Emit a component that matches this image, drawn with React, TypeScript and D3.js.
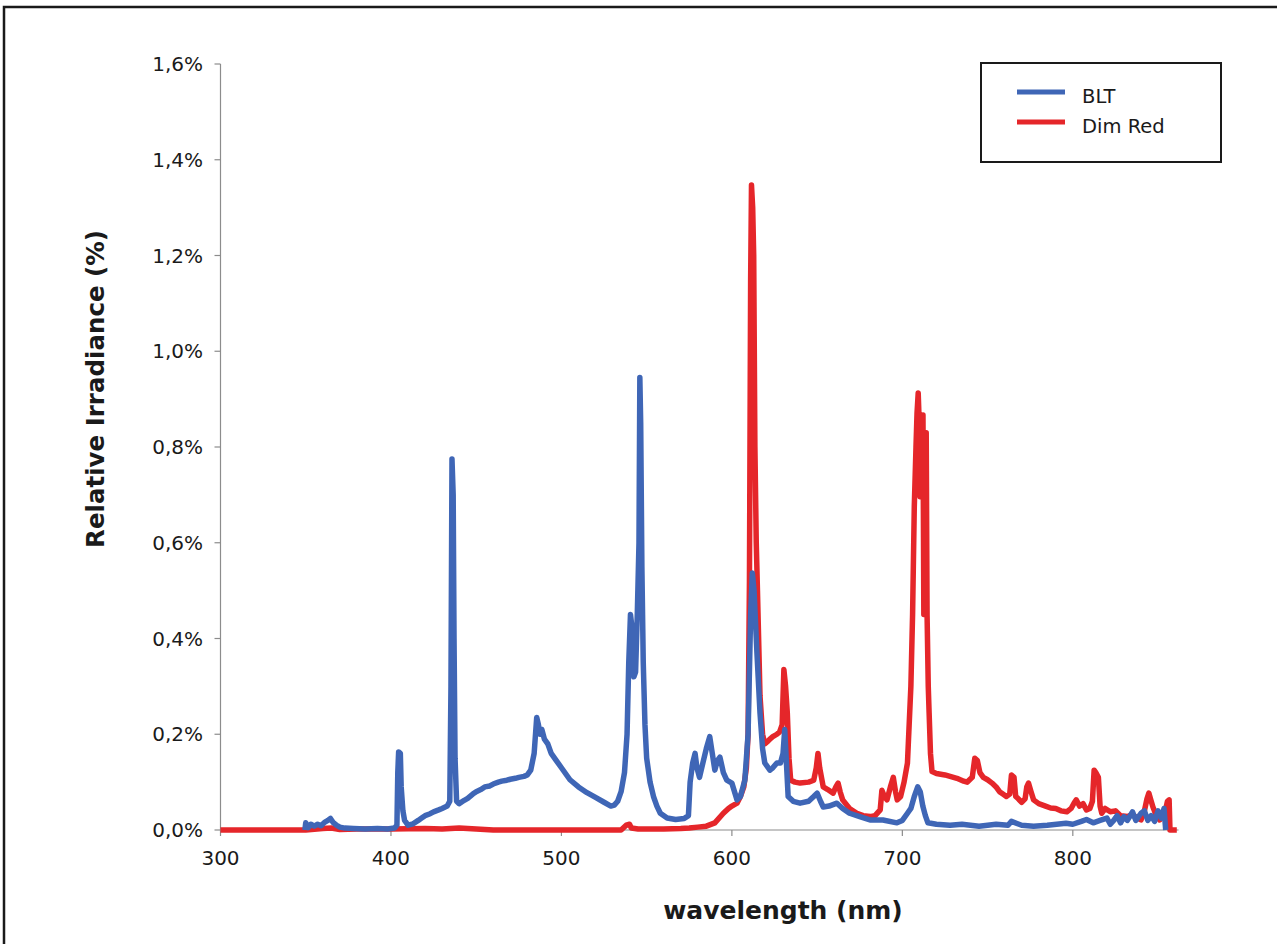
import React from "react";
import * as d3 from "d3";

// wavelength (nm), relative irradiance (%)
const bltSeries: [number, number][] = [
  [349.5, 0], [350, 0.015], [351.5, 0.005], [353, 0.012], [355, 0.008], [357, 0.012], [359, 0.009],
  [361, 0.016], [363, 0.02], [364.5, 0.024], [366, 0.016], [368, 0.01], [370, 0.006], [373, 0.004],
  [378, 0.003], [385, 0.002], [392, 0.003], [398, 0.002], [402, 0.004], [403.5, 0.01],
  [404, 0.12], [404.5, 0.163], [405.5, 0.16], [406, 0.09], [407, 0.04], [408, 0.02], [410, 0.01],
  [413, 0.013], [416, 0.02], [418, 0.025], [420, 0.03], [423, 0.034], [425, 0.038], [428, 0.042],
  [430, 0.045], [433, 0.05], [434.5, 0.06], [435.2, 0.3], [435.8, 0.775], [436.5, 0.7], [437, 0.4],
  [437.6, 0.15], [438.5, 0.06], [440, 0.055], [443, 0.062], [445, 0.066], [448, 0.075], [450, 0.08],
  [453, 0.085], [455, 0.09], [458, 0.092], [460, 0.096], [463, 0.1], [465, 0.102], [468, 0.104],
  [470, 0.106], [473, 0.108], [475, 0.11], [478, 0.112], [480, 0.115], [482, 0.125], [484, 0.16],
  [485.5, 0.235], [486.5, 0.22], [487.5, 0.2], [488.5, 0.21], [490, 0.19], [492, 0.18], [494, 0.16],
  [497, 0.145], [500, 0.13], [505, 0.105], [510, 0.09], [515, 0.078], [520, 0.068], [525, 0.058],
  [529, 0.05], [531, 0.052], [533, 0.06], [535, 0.08], [537, 0.12], [538.5, 0.2], [539.5, 0.35],
  [540.5, 0.45], [541.5, 0.42], [542.5, 0.32], [543.5, 0.33], [544.5, 0.45], [545.5, 0.6],
  [546, 0.945], [546.5, 0.85], [547.2, 0.55], [548, 0.35], [549, 0.22], [550, 0.15], [552, 0.1],
  [554, 0.07], [556, 0.05], [558, 0.035], [562, 0.025], [567, 0.022], [572, 0.024], [574.5, 0.03],
  [575.5, 0.1], [577, 0.14], [578.4, 0.16], [579.5, 0.13], [581, 0.11], [583, 0.14], [585, 0.17],
  [587, 0.195], [588.5, 0.16], [590, 0.125], [591.5, 0.145], [593, 0.152], [595, 0.12], [597, 0.104],
  [600, 0.098], [603, 0.063], [605, 0.07], [607.6, 0.104], [609.5, 0.2], [611, 0.45], [612, 0.537],
  [613, 0.5], [614.7, 0.37], [616.5, 0.244], [618, 0.17], [619.3, 0.14], [622.3, 0.125], [624, 0.13],
  [626.4, 0.14], [628.5, 0.14], [630, 0.16], [631, 0.21], [632, 0.14], [633, 0.07], [636, 0.06],
  [640, 0.056], [645, 0.06], [648, 0.07], [650, 0.077], [652, 0.06], [653.6, 0.048], [657, 0.05],
  [661.6, 0.056], [665, 0.045], [669, 0.035], [675, 0.028], [681, 0.021], [688.6, 0.021],
  [696.8, 0.015], [700, 0.02], [703, 0.035], [705, 0.045], [707, 0.07], [709, 0.09], [710.5, 0.08],
  [712, 0.05], [713.5, 0.03], [715, 0.015], [720, 0.012], [728, 0.01], [735, 0.012], [745, 0.008],
  [755, 0.012], [762, 0.01], [764, 0.018], [770, 0.01], [777, 0.008], [785, 0.01], [796, 0.014],
  [800, 0.012], [805, 0.018], [808, 0.022], [812, 0.015], [816, 0.02], [820, 0.025], [822, 0.012],
  [824, 0.02], [826, 0.03], [828, 0.015], [830, 0.028], [832, 0.02], [835, 0.038], [837, 0.02],
  [840, 0.035], [842, 0.04], [844, 0.02], [846, 0.03], [848, 0.018], [850, 0.04], [852, 0.025],
  [853.5, 0.045], [854.5, 0.0],
];

const dimRedSeries: [number, number][] = [
  [300, 0], [350, 0], [360, 0.003], [365, 0.004], [370, 0.001], [380, 0.002], [400, 0.002],
  [420, 0.003], [430, 0.002], [440, 0.004], [450, 0.002], [460, 0], [535, 0], [538, 0.01],
  [540, 0.012], [541, 0.004], [545, 0.002], [560, 0.002], [570, 0.003], [575, 0.004], [580, 0.006],
  [585, 0.008], [590, 0.015], [595, 0.035], [598, 0.045], [600, 0.05], [603, 0.056], [605, 0.07],
  [607, 0.09], [608.5, 0.13], [609.5, 0.2], [610.3, 0.52], [611, 1.15], [611.5, 1.347],
  [612.2, 1.3], [612.8, 1.2], [613.5, 0.8], [614.3, 0.6], [615, 0.5], [616.5, 0.28], [618, 0.2],
  [619.3, 0.18], [621, 0.185], [622.3, 0.19], [624, 0.195], [626.4, 0.2], [628, 0.205],
  [629.5, 0.22], [630.5, 0.335], [631.5, 0.3], [632.5, 0.245], [633.5, 0.15], [634.5, 0.104],
  [637, 0.1], [640, 0.098], [645, 0.1], [648, 0.104], [649.5, 0.13], [650.5, 0.16], [651.5, 0.13],
  [653.6, 0.09], [656, 0.085], [659.4, 0.077], [661, 0.09], [662.3, 0.098], [663.5, 0.08],
  [665, 0.063], [669, 0.045], [673.3, 0.035], [677, 0.03], [681, 0.028], [684, 0.03], [687, 0.042],
  [688, 0.083], [689.5, 0.07], [691, 0.063], [693, 0.09], [694.7, 0.11], [696, 0.08], [697, 0.063],
  [699, 0.07], [701, 0.1], [703, 0.14], [705, 0.3], [706, 0.45], [707, 0.675], [708, 0.8],
  [708.6, 0.87], [709.3, 0.913], [709.9, 0.85], [710.4, 0.696], [711.2, 0.75], [712.1, 0.867],
  [712.6, 0.45], [713.2, 0.6], [714, 0.83], [714.5, 0.45], [715.2, 0.3], [715.7, 0.245],
  [716.5, 0.16], [717.4, 0.122], [720, 0.118], [725, 0.115], [728, 0.112], [732, 0.108],
  [736, 0.102], [738, 0.1], [741, 0.11], [742.5, 0.15], [744, 0.145], [745.5, 0.12], [747.5, 0.11],
  [750, 0.105], [752.6, 0.098], [755, 0.09], [757, 0.08], [759, 0.075], [761, 0.07], [763, 0.075],
  [764, 0.115], [765.5, 0.11], [766.5, 0.07], [767.5, 0.067], [770, 0.058], [772, 0.065],
  [773, 0.09], [774, 0.098], [775.5, 0.08], [777, 0.063], [780, 0.055], [784, 0.05], [787, 0.046],
  [790, 0.045], [793, 0.04], [796.5, 0.038], [799, 0.045], [801, 0.058], [802, 0.063], [804, 0.05],
  [806, 0.055], [808, 0.042], [810, 0.045], [811.5, 0.06], [812.5, 0.125], [813.5, 0.12],
  [815, 0.11], [816, 0.05], [817, 0.035], [819, 0.045], [822, 0.038], [825, 0.04], [828, 0.03],
  [832, 0.028], [835, 0.032], [838, 0.025], [840, 0.021], [842, 0.04], [843.5, 0.065],
  [844.6, 0.077], [846, 0.06], [847, 0.048], [849, 0.03], [851, 0.021], [852.5, 0.03], [854, 0.035],
  [855.5, 0.06], [856.5, 0.063], [857, 0.0], [861, 0],
];

const xTicks = [300, 400, 500, 600, 700, 800];
const yTicks = [0, 0.2, 0.4, 0.6, 0.8, 1.0, 1.2, 1.4, 1.6];
const seriesNames = ["BLT", "Dim Red"];
const seriesColors = ["#3F66B6", "#E5262A"];

const W = 1277;
const H = 944;
const FONT = "'DejaVu Sans', Verdana, sans-serif";

export default function App() {
  const x = d3.scaleLinear().domain([300, 862]).range([220.5, 1178.5]);
  const y = d3.scaleLinear().domain([0, 1.6]).range([830, 64]);
  const line = d3
    .line<[number, number]>()
    .x((d) => x(d[0]))
    .y((d) => y(d[1]));

  const fmt = (v: number) => v.toFixed(1).replace(".", ",") + "%";

  return (
    <svg
      width={W}
      height={H}
      style={{ position: "absolute", left: 0, top: 0, background: "#fff" }}
    >
      <rect x={0} y={0} width={W} height={H} fill="#fff" />
      <rect x={4} y={7} width={W + 20} height={H + 20} fill="none" stroke="#1a1a1a" strokeWidth={2.5} />

      {/* y axis */}
      <line x1={x(300)} x2={x(300)} y1={y(1.6)} y2={y(0)} stroke="#8c8c8c" strokeWidth={1.2} />
      {yTicks.map((t) => (
        <g key={"y" + t}>
          <line x1={x(300) - 6} x2={x(300)} y1={y(t)} y2={y(t)} stroke="#8c8c8c" strokeWidth={1.2} />
          <text
            x={203}
            y={y(t)}
            dy="0.36em"
            textAnchor="end"
            fontFamily={FONT}
            fontSize={20}
            fill="#1a1a1a"
          >
            {fmt(t)}
          </text>
        </g>
      ))}

      {/* x axis */}
      <line x1={x(300)} x2={x(862)} y1={y(0)} y2={y(0)} stroke="#8c8c8c" strokeWidth={1.2} />
      {xTicks.map((t) => (
        <g key={"x" + t}>
          <line x1={x(t)} x2={x(t)} y1={y(0)} y2={y(0) + 6} stroke="#8c8c8c" strokeWidth={1.2} />
          <text
            x={x(t)}
            y={858}
            dy="0.36em"
            textAnchor="middle"
            fontFamily={FONT}
            fontSize={20}
            fill="#1a1a1a"
          >
            {t}
          </text>
        </g>
      ))}

      {/* series */}
      <path
        d={line(dimRedSeries) || ""}
        fill="none"
        stroke={seriesColors[1]}
        strokeWidth={5.5}
        strokeLinejoin="round"
      />
      <path
        d={line(bltSeries) || ""}
        fill="none"
        stroke={seriesColors[0]}
        strokeWidth={5.5}
        strokeLinejoin="round"
      />

      {/* axis titles */}
      <text
        x={783}
        y={910}
        dy="0.36em"
        textAnchor="middle"
        fontFamily={FONT}
        fontWeight="bold"
        fontSize={25}
        fill="#1a1a1a"
      >
        wavelength (nm)
      </text>
      <text
        transform="translate(95,389) rotate(-90)"
        dy="0.36em"
        textAnchor="middle"
        fontFamily={FONT}
        fontWeight="bold"
        fontSize={24.5}
        fill="#1a1a1a"
      >
        Relative Irradiance (%)
      </text>

      {/* legend */}
      <rect x={981} y={63} width={240} height={99} fill="#fff" stroke="#1a1a1a" strokeWidth={2} />
      {seriesNames.map((n, i) => (
        <g key={n}>
          <line
            x1={1017}
            x2={1065}
            y1={92 + i * 30}
            y2={92 + i * 30}
            stroke={seriesColors[i]}
            strokeWidth={5}
          />
          <text
            x={1082}
            y={92 + i * 30 + 4}
            dy="0.36em"
            fontFamily={FONT}
            fontSize={19.5}
            fill="#1a1a1a"
          >
            {n}
          </text>
        </g>
      ))}
    </svg>
  );
}
